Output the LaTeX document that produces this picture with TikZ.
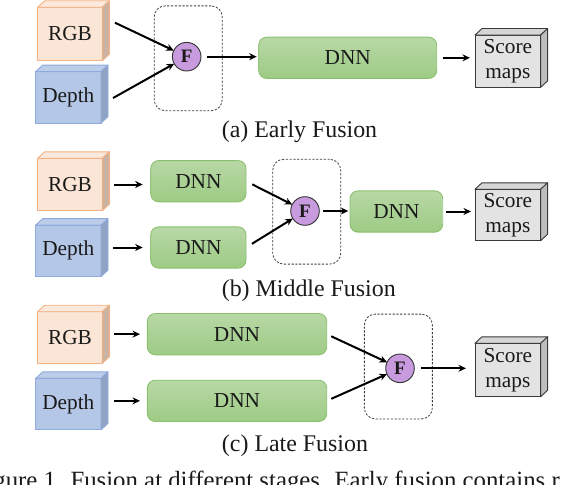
\documentclass[tikz,border=0pt]{standalone}
\usepackage{fontspec}
\setmainfont{Liberation Serif}
\usetikzlibrary{arrows.meta,calc}
\definecolor{rgbfront}{HTML}{FBE5D6}
\definecolor{rgbtop}{HTML}{FCE9DD}
\definecolor{rgbside}{HTML}{CBB3A3}
\definecolor{rgbline}{HTML}{F4B183}
\definecolor{depfront}{HTML}{B4C7E7}
\definecolor{deptop}{HTML}{BCCDEA}
\definecolor{depside}{HTML}{8FA3C3}
\definecolor{depline}{HTML}{8FAADC}
\definecolor{dnntop}{HTML}{B8D8A6}
\definecolor{dnnbot}{HTML}{9DCB84}
\definecolor{dnnline}{HTML}{8CC06F}
\definecolor{scfront}{HTML}{E3E3E3}
\definecolor{sctop}{HTML}{D6D6D6}
\definecolor{scside}{HTML}{BDBDBD}
\definecolor{scline}{HTML}{3A3A3A}
\definecolor{ffill}{HTML}{C79BDD}
\definecolor{inkc}{HTML}{1A1A1A}
\newcommand\cubefaces[4]{%
  \filldraw[fill=#2,draw=#4,line width=0.9pt,line join=round]
    (#1.north west) -- ($(#1.north west)+(7,-6.5)$) -- ($(#1.north east)+(7,-6.5)$) -- (#1.north east) -- cycle;
  \filldraw[fill=#3,draw=#4,line width=0.9pt,line join=round]
    (#1.north east) -- ($(#1.north east)+(7,-6.5)$) -- ($(#1.south east)+(7,-6.5)$) -- (#1.south east) -- cycle;
}
\begin{document}
\begin{tikzpicture}[x=1pt,y=-1pt,
  boxtext/.style={font=\fontsize{21.3}{25.5}\selectfont, text=inkc},
  rgbbox/.style={boxtext, draw=rgbline, fill=rgbfront, line width=0.9pt, inner sep=0pt, outer sep=0pt, minimum width=64.6pt},
  depbox/.style={boxtext, draw=depline, fill=depfront, line width=0.9pt, inner sep=0pt, outer sep=0pt, minimum width=65.3pt, minimum height=51.5pt},
  dnnbox/.style={boxtext, draw=dnnline, top color=dnntop, bottom color=dnnbot, line width=0.9pt, rounded corners=8pt, inner sep=0pt, outer sep=0pt, minimum height=41.3pt},
  scbox/.style={boxtext, align=center, draw=scline, fill=scfront, line width=0.9pt, inner sep=0pt, outer sep=0pt, minimum width=65.7pt},
  fusebox/.style={draw=black!75, dash pattern=on 2.2pt off 1.6pt, line width=0.8pt, rounded corners=11pt, inner sep=0pt, outer sep=0pt, minimum width=68pt, minimum height=104.8pt},
  fnode/.style={circle, draw=black!80, fill=ffill, line width=0.9pt, minimum size=28.6pt, inner sep=0pt, outer sep=0pt, font=\fontsize{19}{19}\selectfont\bfseries, text=inkc},
  arr/.style={-{Stealth[length=7.5pt,width=7pt]}, line width=2pt, black},
  captext/.style={font=\fontsize{23.9}{26}\selectfont, text=inkc, anchor=base, inner sep=0pt}
]
\useasboundingbox (0,0) rectangle (580,484);
\clip (0,0) rectangle (580,484);
\fill[white] (0,0) rectangle (580,484);

% ---------- (a) Early fusion ----------
\node[rgbbox, minimum height=53.4pt] (rgbA) at (70,34) {RGB};
\cubefaces{rgbA}{rgbtop}{rgbside}{rgbline}
\node[depbox] (depA) at (68.35,97.35) {Depth};
\cubefaces{depA}{deptop}{depside}{depline}
\node[fusebox] (fbA) at (188.2,58.3) {};
\node[fnode] (fA) at (186.7,56.7) {F};
\node[dnnbox, minimum width=178pt] (dnnA) at (347.7,57.8) {DNN};
\node[scbox, minimum height=52.3pt] (scA) at (507.8,61.2) {Score\\maps};
\cubefaces{scA}{sctop}{scside}{scline}
\draw[arr] ($(rgbA.east)+(12.7,-11.3)$) -- (fA);
\draw[arr] ($(depA.east)+(12,0.7)$) -- (fA);
\draw[arr, shorten <=5.5pt, shorten >=2pt] (fA) -- (fA -| dnnA.west);
\draw[arr, shorten <=6pt, shorten >=5pt] (dnnA.east) -- (dnnA.east -| scA.west);
\node[captext] (capA) at (299.5,137.3) {(a) Early Fusion};

% ---------- (b) Middle fusion ----------
\node[rgbbox, minimum height=52.4pt] (rgbB) at (70,184.5) {RGB};
\cubefaces{rgbB}{rgbtop}{rgbside}{rgbline}
\node[depbox] (depB) at (68.35,250.85) {Depth};
\cubefaces{depB}{deptop}{depside}{depline}
\node[dnnbox, minimum width=95.3pt] (dnnB1) at (198.35,181.2) {DNN};
\node[dnnbox, minimum width=95.3pt] (dnnB2) at (198.35,247.5) {DNN};
\node[fusebox] (fbB) at (306.7,211.7) {};
\node[fnode] (fB) at (305,211) {F};
\node[dnnbox, minimum width=92.7pt] (dnnB3) at (396.35,211.5) {DNN};
\node[scbox, minimum height=51.4pt] (scB) at (507.8,215) {Score\\maps};
\cubefaces{scB}{sctop}{scside}{scline}
\draw[arr, shorten <=11.7pt, shorten >=8pt] (rgbB.east) -- (rgbB.east -| dnnB1.west);
\draw[arr, shorten <=12.3pt, shorten >=8pt] (dnnB2.west -| depB.east) -- (dnnB2.west);
\draw[arr, shorten <=7pt] (dnnB1.east) -- (fB);
\draw[arr, shorten <=7pt] (dnnB2.east) -- (fB);
\draw[arr, shorten <=3.7pt, shorten >=1.7pt] (fB) -- (fB -| dnnB3.west);
\draw[arr, shorten <=3.3pt, shorten >=4pt] (dnnB3.east) -- (dnnB3.east -| scB.west);
\node[captext] (capB) at (308.8,296) {(b) Middle Fusion};

% ---------- (c) Late fusion ----------
\node[rgbbox, minimum height=51.6pt] (rgbC) at (70,337.5) {RGB};
\cubefaces{rgbC}{rgbtop}{rgbside}{rgbline}
\node[depbox] (depC) at (68.35,404.15) {Depth};
\cubefaces{depC}{deptop}{depside}{depline}
\node[dnnbox, minimum width=179.4pt] (dnnC1) at (237,334.15) {DNN};
\node[dnnbox, minimum width=179.4pt] (dnnC2) at (237,400.85) {DNN};
\node[fusebox] (fbC) at (398.35,366.5) {};
\node[fnode] (fC) at (400,368.3) {F};
\node[scbox, minimum height=53.4pt] (scC) at (507.8,370) {Score\\maps};
\cubefaces{scC}{sctop}{scside}{scline}
\draw[arr, shorten <=11.7pt, shorten >=7.3pt] (dnnC1.west -| rgbC.east) -- (dnnC1.west);
\draw[arr, shorten <=13pt, shorten >=7.3pt] (dnnC2.west -| depC.east) -- (dnnC2.west);
\draw[arr, shorten <=5pt] (dnnC1.east) -- (fC);
\draw[arr, shorten <=5pt] (dnnC2.east) -- (fC);
\draw[arr, shorten <=6.7pt, shorten >=9pt] (fC) -- (fC -| scC.west);
\node[captext] (capC) at (295,451.4) {(c) Late Fusion};

% ---------- figure caption (cut off at the bottom edge) ----------
\node[anchor=base west, inner sep=0pt, text=inkc, font=\fontsize{24.8}{27}\selectfont] (figcap) at (-27.5,488) {Figure 1. Fusion at different stages. Early fusion contains r};
\end{tikzpicture}
\end{document}
